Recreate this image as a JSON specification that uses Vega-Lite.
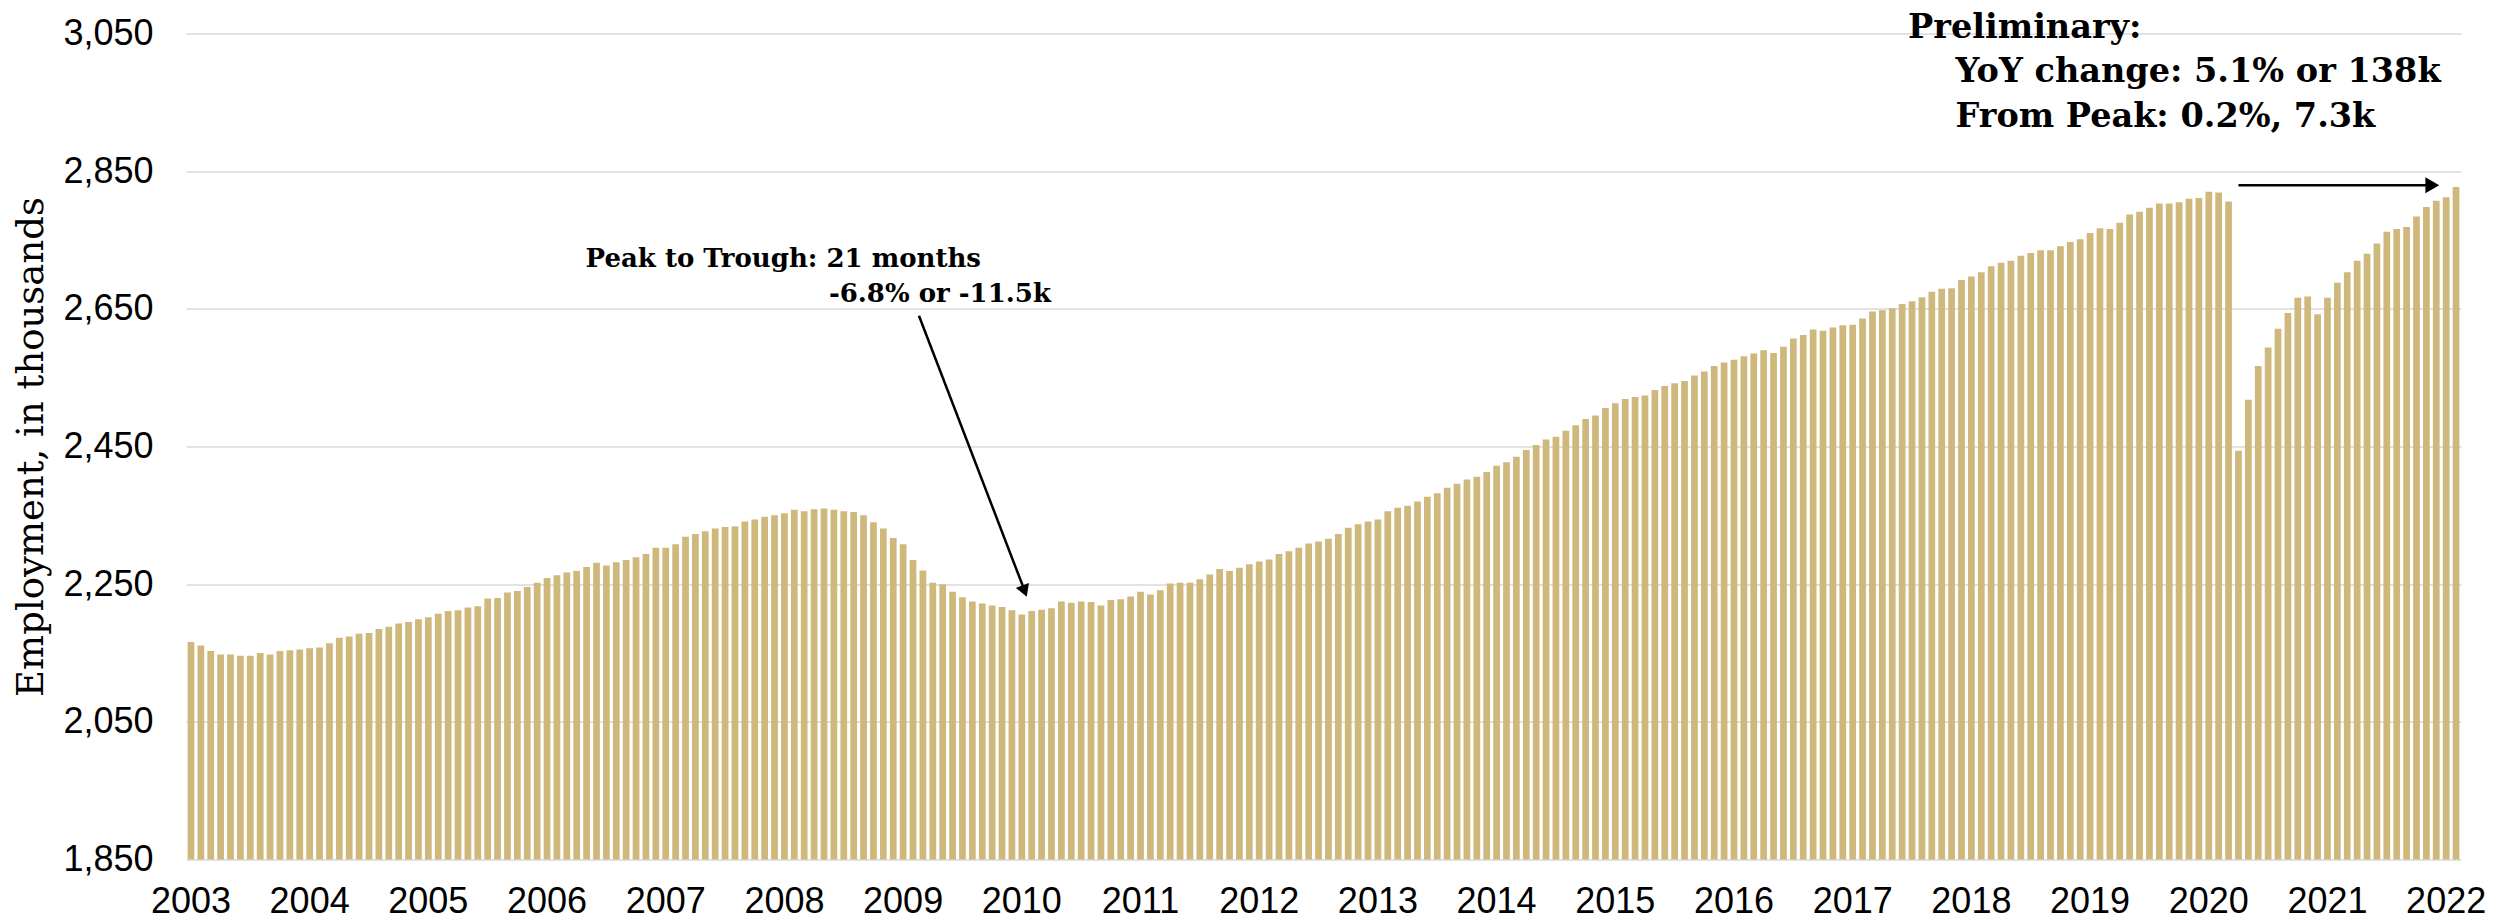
{
  "$schema": "https://vega.github.io/schema/vega-lite/v6.json",
  "autosize": {"type": "none"},
  "padding": {"left": 186, "top": 33.5, "right": 38, "bottom": 61.5},
  "width": 2275,
  "height": 826,
  "background": "white",
  "config": {"view": {"stroke": null}},
  "datasets": {
    "emp": [
      {"month": "2003-01", "value": 2166}, {"month": "2003-02", "value": 2161}, {"month": "2003-03", "value": 2153}, {"month": "2003-04", "value": 2148}, {"month": "2003-05", "value": 2148}, {"month": "2003-06", "value": 2146}, {"month": "2003-07", "value": 2146}, {"month": "2003-08", "value": 2150}, {"month": "2003-09", "value": 2148}, {"month": "2003-10", "value": 2153}, {"month": "2003-11", "value": 2154}, {"month": "2003-12", "value": 2155},
      {"month": "2004-01", "value": 2157}, {"month": "2004-02", "value": 2158}, {"month": "2004-03", "value": 2164}, {"month": "2004-04", "value": 2172}, {"month": "2004-05", "value": 2174}, {"month": "2004-06", "value": 2178}, {"month": "2004-07", "value": 2179}, {"month": "2004-08", "value": 2185}, {"month": "2004-09", "value": 2188}, {"month": "2004-10", "value": 2193}, {"month": "2004-11", "value": 2195}, {"month": "2004-12", "value": 2199},
      {"month": "2005-01", "value": 2202}, {"month": "2005-02", "value": 2207}, {"month": "2005-03", "value": 2211}, {"month": "2005-04", "value": 2212}, {"month": "2005-05", "value": 2216}, {"month": "2005-06", "value": 2218}, {"month": "2005-07", "value": 2229}, {"month": "2005-08", "value": 2230}, {"month": "2005-09", "value": 2238}, {"month": "2005-10", "value": 2240}, {"month": "2005-11", "value": 2246}, {"month": "2005-12", "value": 2252},
      {"month": "2006-01", "value": 2259}, {"month": "2006-02", "value": 2263}, {"month": "2006-03", "value": 2267}, {"month": "2006-04", "value": 2269}, {"month": "2006-05", "value": 2275}, {"month": "2006-06", "value": 2281}, {"month": "2006-07", "value": 2277}, {"month": "2006-08", "value": 2282}, {"month": "2006-09", "value": 2285}, {"month": "2006-10", "value": 2289}, {"month": "2006-11", "value": 2294}, {"month": "2006-12", "value": 2303},
      {"month": "2007-01", "value": 2303}, {"month": "2007-02", "value": 2308}, {"month": "2007-03", "value": 2319}, {"month": "2007-04", "value": 2323}, {"month": "2007-05", "value": 2327}, {"month": "2007-06", "value": 2331}, {"month": "2007-07", "value": 2333}, {"month": "2007-08", "value": 2334}, {"month": "2007-09", "value": 2341}, {"month": "2007-10", "value": 2344}, {"month": "2007-11", "value": 2348}, {"month": "2007-12", "value": 2350},
      {"month": "2008-01", "value": 2353}, {"month": "2008-02", "value": 2358}, {"month": "2008-03", "value": 2356}, {"month": "2008-04", "value": 2359}, {"month": "2008-05", "value": 2360}, {"month": "2008-06", "value": 2358}, {"month": "2008-07", "value": 2356}, {"month": "2008-08", "value": 2355}, {"month": "2008-09", "value": 2350}, {"month": "2008-10", "value": 2340}, {"month": "2008-11", "value": 2331}, {"month": "2008-12", "value": 2317},
      {"month": "2009-01", "value": 2308}, {"month": "2009-02", "value": 2285}, {"month": "2009-03", "value": 2270}, {"month": "2009-04", "value": 2252}, {"month": "2009-05", "value": 2250}, {"month": "2009-06", "value": 2239}, {"month": "2009-07", "value": 2231}, {"month": "2009-08", "value": 2225}, {"month": "2009-09", "value": 2222}, {"month": "2009-10", "value": 2219}, {"month": "2009-11", "value": 2217}, {"month": "2009-12", "value": 2212},
      {"month": "2010-01", "value": 2206}, {"month": "2010-02", "value": 2211}, {"month": "2010-03", "value": 2213}, {"month": "2010-04", "value": 2215}, {"month": "2010-05", "value": 2225}, {"month": "2010-06", "value": 2223}, {"month": "2010-07", "value": 2225}, {"month": "2010-08", "value": 2224}, {"month": "2010-09", "value": 2219}, {"month": "2010-10", "value": 2227}, {"month": "2010-11", "value": 2228}, {"month": "2010-12", "value": 2232},
      {"month": "2011-01", "value": 2239}, {"month": "2011-02", "value": 2235}, {"month": "2011-03", "value": 2241}, {"month": "2011-04", "value": 2251}, {"month": "2011-05", "value": 2252}, {"month": "2011-06", "value": 2252}, {"month": "2011-07", "value": 2257}, {"month": "2011-08", "value": 2264}, {"month": "2011-09", "value": 2272}, {"month": "2011-10", "value": 2269}, {"month": "2011-11", "value": 2274}, {"month": "2011-12", "value": 2279},
      {"month": "2012-01", "value": 2283}, {"month": "2012-02", "value": 2286}, {"month": "2012-03", "value": 2294}, {"month": "2012-04", "value": 2298}, {"month": "2012-05", "value": 2303}, {"month": "2012-06", "value": 2309}, {"month": "2012-07", "value": 2312}, {"month": "2012-08", "value": 2316}, {"month": "2012-09", "value": 2323}, {"month": "2012-10", "value": 2332}, {"month": "2012-11", "value": 2337}, {"month": "2012-12", "value": 2341},
      {"month": "2013-01", "value": 2344}, {"month": "2013-02", "value": 2356}, {"month": "2013-03", "value": 2361}, {"month": "2013-04", "value": 2364}, {"month": "2013-05", "value": 2370}, {"month": "2013-06", "value": 2377}, {"month": "2013-07", "value": 2382}, {"month": "2013-08", "value": 2390}, {"month": "2013-09", "value": 2396}, {"month": "2013-10", "value": 2402}, {"month": "2013-11", "value": 2406}, {"month": "2013-12", "value": 2413},
      {"month": "2014-01", "value": 2422}, {"month": "2014-02", "value": 2427}, {"month": "2014-03", "value": 2435}, {"month": "2014-04", "value": 2445}, {"month": "2014-05", "value": 2452}, {"month": "2014-06", "value": 2460}, {"month": "2014-07", "value": 2464}, {"month": "2014-08", "value": 2473}, {"month": "2014-09", "value": 2481}, {"month": "2014-10", "value": 2490}, {"month": "2014-11", "value": 2495}, {"month": "2014-12", "value": 2506},
      {"month": "2015-01", "value": 2513}, {"month": "2015-02", "value": 2519}, {"month": "2015-03", "value": 2522}, {"month": "2015-04", "value": 2524}, {"month": "2015-05", "value": 2532}, {"month": "2015-06", "value": 2538}, {"month": "2015-07", "value": 2542}, {"month": "2015-08", "value": 2545}, {"month": "2015-09", "value": 2553}, {"month": "2015-10", "value": 2559}, {"month": "2015-11", "value": 2567}, {"month": "2015-12", "value": 2572},
      {"month": "2016-01", "value": 2576}, {"month": "2016-02", "value": 2581}, {"month": "2016-03", "value": 2585}, {"month": "2016-04", "value": 2590}, {"month": "2016-05", "value": 2586}, {"month": "2016-06", "value": 2595}, {"month": "2016-07", "value": 2607}, {"month": "2016-08", "value": 2612}, {"month": "2016-09", "value": 2620}, {"month": "2016-10", "value": 2618}, {"month": "2016-11", "value": 2623}, {"month": "2016-12", "value": 2626},
      {"month": "2017-01", "value": 2627}, {"month": "2017-02", "value": 2636}, {"month": "2017-03", "value": 2646}, {"month": "2017-04", "value": 2648}, {"month": "2017-05", "value": 2651}, {"month": "2017-06", "value": 2657}, {"month": "2017-07", "value": 2661}, {"month": "2017-08", "value": 2667}, {"month": "2017-09", "value": 2675}, {"month": "2017-10", "value": 2679}, {"month": "2017-11", "value": 2680}, {"month": "2017-12", "value": 2692},
      {"month": "2018-01", "value": 2697}, {"month": "2018-02", "value": 2703}, {"month": "2018-03", "value": 2712}, {"month": "2018-04", "value": 2717}, {"month": "2018-05", "value": 2720}, {"month": "2018-06", "value": 2727}, {"month": "2018-07", "value": 2731}, {"month": "2018-08", "value": 2735}, {"month": "2018-09", "value": 2735}, {"month": "2018-10", "value": 2741}, {"month": "2018-11", "value": 2747}, {"month": "2018-12", "value": 2751},
      {"month": "2019-01", "value": 2760}, {"month": "2019-02", "value": 2767}, {"month": "2019-03", "value": 2766}, {"month": "2019-04", "value": 2775}, {"month": "2019-05", "value": 2787}, {"month": "2019-06", "value": 2791}, {"month": "2019-07", "value": 2797}, {"month": "2019-08", "value": 2803}, {"month": "2019-09", "value": 2803}, {"month": "2019-10", "value": 2805}, {"month": "2019-11", "value": 2810}, {"month": "2019-12", "value": 2811},
      {"month": "2020-01", "value": 2820}, {"month": "2020-02", "value": 2819}, {"month": "2020-03", "value": 2806}, {"month": "2020-04", "value": 2444}, {"month": "2020-05", "value": 2518}, {"month": "2020-06", "value": 2567}, {"month": "2020-07", "value": 2594}, {"month": "2020-08", "value": 2621}, {"month": "2020-09", "value": 2644}, {"month": "2020-10", "value": 2666}, {"month": "2020-11", "value": 2668}, {"month": "2020-12", "value": 2642},
      {"month": "2021-01", "value": 2666}, {"month": "2021-02", "value": 2688}, {"month": "2021-03", "value": 2703}, {"month": "2021-04", "value": 2720}, {"month": "2021-05", "value": 2730}, {"month": "2021-06", "value": 2745}, {"month": "2021-07", "value": 2762}, {"month": "2021-08", "value": 2766}, {"month": "2021-09", "value": 2769}, {"month": "2021-10", "value": 2784}, {"month": "2021-11", "value": 2798}, {"month": "2021-12", "value": 2807},
      {"month": "2022-01", "value": 2812}, {"month": "2022-02", "value": 2827}
    ],
    "notesSmall": [
      {"label": "Peak to Trough: 21 months", "pos": 40.4, "v": 2711},
      {"label": "-6.8% or -11.5k", "pos": 65.0, "v": 2660}
    ],
    "notesLarge": [
      {"label": "Preliminary:", "pos": 174.1, "v": 3044},
      {"label": "YoY change: 5.1% or 138k", "pos": 178.9, "v": 2979},
      {"label": "From Peak: 0.2%, 7.3k", "pos": 178.9, "v": 2914}
    ],
    "arrows": [
      {"p1": 74.1, "v1": 2640, "p2": 84.8, "v2": 2240},
      {"p1": 207.5, "v1": 2829.5, "p2": 227.1, "v2": 2829.5}
    ],
    "headDown": [{"pos": 84.78, "v": 2240}],
    "headRight": [{"pos": 227.1, "v": 2829.5}]
  },
  "resolve": {"scale": {"x": "independent"}, "axis": {"x": "independent"}},
  "layer": [
    {
      "data": {"name": "emp"},
      "mark": {"type": "bar", "color": "#CFB87C", "clip": true},
      "encoding": {
        "x": {
          "field": "month", "type": "ordinal",
          "scale": {"paddingInner": 0.32, "paddingOuter": 0.16},
          "axis": {
            "title": null,
            "values": ["2003-01","2004-01","2005-01","2006-01","2007-01","2008-01","2009-01","2010-01","2011-01","2012-01","2013-01","2014-01","2015-01","2016-01","2017-01","2018-01","2019-01","2020-01","2021-01","2022-01"],
            "labelExpr": "slice(datum.value, 0, 4)",
            "labelAngle": 0, "labelOverlap": false,
            "ticks": false, "domain": false, "grid": false,
            "labelFont": "Liberation Sans", "labelFontSize": 36, "labelColor": "#000000",
            "labelPadding": 25
          }
        },
        "y": {
          "field": "value", "type": "quantitative",
          "scale": {"domain": [1850, 3050], "nice": false, "zero": false},
          "axis": {
            "title": "Employment, in thousands",
            "titleFont": "DejaVu Serif", "titleFontSize": 37, "titleFontWeight": "normal", "titleColor": "#000000",
            "titlePadding": 12,
            "values": [1850, 2050, 2250, 2450, 2650, 2850, 3050],
            "labelExpr": "format(datum.value, ',')",
            "labelFont": "Liberation Sans", "labelFontSize": 36, "labelColor": "#000000",
            "labelPadding": 33,
            "ticks": false, "domain": false,
            "grid": true, "gridColor": "#d9d9d9", "gridWidth": 1.5
          }
        }
      }
    },
    {
      "data": {"name": "arrows"},
      "mark": {"type": "rule", "color": "#000000", "strokeWidth": 2.5},
      "encoding": {
        "x": {"field": "p1", "type": "quantitative", "scale": {"domain": [0, 230], "nice": false, "zero": true}, "axis": null},
        "x2": {"field": "p2"},
        "y": {"field": "v1", "type": "quantitative", "scale": {"domain": [1850, 3050], "nice": false, "zero": false}},
        "y2": {"field": "v2"}
      }
    },
    {
      "data": {"name": "headDown"},
      "mark": {"type": "point", "shape": "triangle-down", "angle": -21, "size": 196, "filled": true, "color": "#000000", "opacity": 1},
      "encoding": {
        "x": {"field": "pos", "type": "quantitative", "scale": {"domain": [0, 230], "nice": false, "zero": true}, "axis": null},
        "y": {"field": "v", "type": "quantitative", "scale": {"domain": [1850, 3050], "nice": false, "zero": false}}
      }
    },
    {
      "data": {"name": "headRight"},
      "mark": {"type": "point", "shape": "triangle-right", "size": 256, "filled": true, "color": "#000000", "opacity": 1},
      "encoding": {
        "x": {"field": "pos", "type": "quantitative", "scale": {"domain": [0, 230], "nice": false, "zero": true}, "axis": null},
        "y": {"field": "v", "type": "quantitative", "scale": {"domain": [1850, 3050], "nice": false, "zero": false}}
      }
    },
    {
      "data": {"name": "notesSmall"},
      "mark": {"type": "text", "align": "left", "baseline": "alphabetic", "font": "DejaVu Serif", "fontWeight": "bold", "fontSize": 26, "color": "#000000"},
      "encoding": {
        "x": {"field": "pos", "type": "quantitative", "scale": {"domain": [0, 230], "nice": false, "zero": true}, "axis": null},
        "y": {"field": "v", "type": "quantitative", "scale": {"domain": [1850, 3050], "nice": false, "zero": false}},
        "text": {"field": "label"}
      }
    },
    {
      "data": {"name": "notesLarge"},
      "mark": {"type": "text", "align": "left", "baseline": "alphabetic", "font": "DejaVu Serif", "fontWeight": "bold", "fontSize": 33.5, "color": "#000000"},
      "encoding": {
        "x": {"field": "pos", "type": "quantitative", "scale": {"domain": [0, 230], "nice": false, "zero": true}, "axis": null},
        "y": {"field": "v", "type": "quantitative", "scale": {"domain": [1850, 3050], "nice": false, "zero": false}},
        "text": {"field": "label"}
      }
    }
  ]
}
